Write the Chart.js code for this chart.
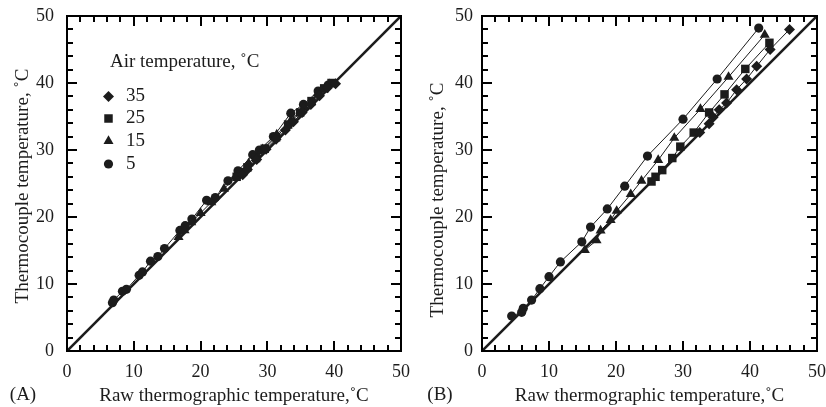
<!DOCTYPE html>
<html><head><meta charset="utf-8">
<script src="https://cdn.jsdelivr.net/npm/chart.js@4/dist/chart.umd.min.js"></script>
<style>
html,body{margin:0;padding:0;background:#fff;}
#wrap{position:relative;width:826px;height:407px;overflow:hidden;}
canvas{position:absolute;top:0;}
</style></head><body>
<div id="wrap"><canvas id="a" width="413" height="407" style="left:0"></canvas><canvas id="b" width="413" height="407" style="left:413px"></canvas></div>
<script>
// ---- text / ticks ----
const tickLabels = [0, 10, 20, 30, 40, 50];
const minorTicks = [0, 2, 4, 6, 8, 10, 12, 14, 16, 18, 20, 22, 24, 26, 28, 30, 32, 34, 36, 38, 40, 42, 44, 46, 48, 50];
const legendTitle = 'Air temperature, \u02DAC';
const seriesLabels = ['35', '25', '15', '5'];
const xTitle = 'Raw thermographic temperature,\u02DAC';
const yTitle = 'Thermocouple temperature, \u02DAC';
const panelLabels = ['(A)', '(B)'];
const identityX = [0, 50];
const identityY = [0, 50];

// ---- Panel A ----
const a35x = [26.3, 27.0, 28.4, 29.8, 31.3, 32.7, 33.9, 35.2, 36.5, 37.8, 39.0, 40.2];
const a35y = [26.3, 27.1, 28.6, 30.1, 31.6, 33.0, 34.2, 35.6, 36.8, 38.1, 39.3, 39.9];
const a25x = [25.4, 26.1, 27.0, 28.3, 29.6, 31.3, 33.1, 34.9, 36.6, 38.5, 39.6];
const a25y = [26.0, 26.7, 27.4, 28.8, 30.2, 31.9, 33.8, 35.6, 37.3, 39.2, 40.0];
const a15x = [16.7, 17.6, 18.6, 20.0, 21.6, 23.5, 25.3, 27.2, 29.3, 31.4, 33.5, 35.5, 37.5, 39.3];
const a15y = [17.0, 18.0, 19.2, 20.6, 22.2, 24.2, 26.1, 28.0, 30.1, 32.3, 34.4, 36.4, 38.4, 39.8];
const a5x = [6.8, 7.0, 8.3, 8.9, 10.8, 11.3, 12.5, 13.6, 14.6, 16.9, 17.7, 18.7, 20.9, 22.2, 24.1, 25.6, 27.8, 28.8, 30.9, 33.5, 35.4, 37.6, 39.1];
const a5y = [7.2, 7.6, 8.9, 9.2, 11.3, 11.8, 13.4, 14.1, 15.3, 18.0, 18.7, 19.7, 22.5, 22.9, 25.4, 26.9, 29.3, 30.0, 32.0, 35.5, 36.8, 38.8, 39.7];

// ---- Panel B ----
const b35x = [32.5, 33.9, 34.5, 35.4, 36.5, 38.0, 39.5, 41.0, 43.0, 45.9];
const b35y = [32.6, 33.9, 34.9, 36.0, 37.0, 39.0, 40.6, 42.5, 45.0, 48.0];
const b25x = [25.3, 25.9, 26.9, 28.4, 29.6, 31.6, 33.9, 36.2, 39.3, 42.9];
const b25y = [25.3, 26.0, 27.0, 28.8, 30.5, 32.6, 35.6, 38.3, 42.1, 46.0];
const b15x = [15.35, 17.1, 17.7, 19.2, 20.1, 22.2, 23.8, 26.3, 28.7, 32.6, 36.8, 42.2];
const b15y = [15.07, 16.5, 17.96, 19.55, 20.9, 23.4, 25.4, 28.5, 31.8, 36.1, 40.9, 47.2];
const b5x = [4.43, 5.92, 6.16, 7.4, 8.64, 10.0, 11.7, 14.9, 16.2, 18.7, 21.3, 24.7, 30.0, 35.1, 41.3];
const b5y = [5.22, 5.77, 6.37, 7.6, 9.3, 11.1, 13.3, 16.3, 18.5, 21.2, 24.6, 29.1, 34.6, 40.6, 48.2];

const INK = '#1c1c1c';
const FONT = 'Liberation Serif, Times New Roman, serif';
const styles = [
  {pointStyle: 'rectRot', radius: 5.5},
  {pointStyle: 'rect', radius: 6},
  {pointStyle: 'triangle', radius: 5.8},
  {pointStyle: 'circle', radius: 4.6}
];

function pts(xs, ys) { return xs.map((v, i) => ({x: v, y: ys[i]})); }

function seriesSets(list) {
  const sets = [{
    data: pts(identityX, identityY), showLine: true, borderColor: INK, borderWidth: 2.6,
    pointRadius: 0, order: 10
  }];
  list.forEach((s, i) => {
    sets.push({
      label: seriesLabels[i], data: pts(s[0], s[1]), showLine: true,
      borderColor: INK, borderWidth: 1, backgroundColor: INK,
      pointStyle: styles[i].pointStyle, pointRadius: styles[i].radius,
      pointBorderWidth: 0, pointBackgroundColor: INK, tension: 0
    });
  });
  return sets;
}

const frameTicks = {
  id: 'frameTicks',
  afterDraw(chart) {
    const ctx = chart.ctx;
    const ca = chart.chartArea;
    const sx = chart.scales.x, sy = chart.scales.y;
    ctx.save();
    ctx.fillStyle = '#000';
    const L0 = Math.round(ca.left), R0 = Math.round(ca.right), T0 = Math.round(ca.top), B0 = Math.round(ca.bottom);
    ctx.fillRect(L0 - 1, T0 - 1, R0 - L0 + 2, 2);
    ctx.fillRect(L0 - 1, B0 - 1, R0 - L0 + 2, 2);
    ctx.fillRect(L0 - 1, T0 - 1, 2, B0 - T0 + 2);
    ctx.fillRect(R0 - 1, T0 - 1, 2, B0 - T0 + 2);
    minorTicks.forEach(v => {
      const len = tickLabels.indexOf(v) >= 0 ? 10 : 6;
      const px = Math.round(sx.getPixelForValue(v));
      const py = Math.round(sy.getPixelForValue(v));
      ctx.fillRect(px - 1, B0 - len, 2, len);
      ctx.fillRect(px - 1, T0, 2, len);
      ctx.fillRect(L0, py - 1, len, 2);
      ctx.fillRect(R0 - len, py - 1, len, 2);
    });
    ctx.restore();
  }
};

function extras(panelIdx, yTitleY, panelX, withLegend) {
  return {
    id: 'extras' + panelIdx,
    afterDraw(chart) {
      const ctx = chart.ctx;
      ctx.save();
      ctx.fillStyle = INK;
      ctx.font = '19px ' + FONT;
      ctx.textBaseline = 'middle';
      ctx.textAlign = 'center';
      ctx.fillText(panelLabels[panelIdx], panelX, 395);
      ctx.save();
      ctx.translate(chart.chartArea.left - 44, yTitleY);
      ctx.rotate(-Math.PI / 2);
      ctx.fillText(yTitle, 0, 0);
      ctx.restore();
      if (withLegend) {
        ctx.textAlign = 'left';
        ctx.fillText(legendTitle, 110, 62);
        const ly = [96.5, 118.5, 141, 164];
        ly.forEach((yy, i) => {
          ctx.fillText(seriesLabels[i], 126, yy);
          const st = styles[i];
          if (Chart.helpers && Chart.helpers.drawPoint) {
            Chart.helpers.drawPoint(ctx, {pointStyle: st.pointStyle, radius: st.radius, rotation: 0, borderWidth: 0}, 108.5, yy);
          }
        });
      }
      ctx.restore();
    }
  };
}

function makeChart(id, sets, padRight, yWidth, yPad, panelIdx, yTitleY, panelX, withLegend) {
  return new Chart(document.getElementById(id), {
    type: 'scatter',
    data: {datasets: sets},
    options: {
      responsive: false, animation: false, devicePixelRatio: 1,
      layout: {padding: {left: 0, top: 16, right: padRight, bottom: 0}},
      plugins: {legend: {display: false}, tooltip: {enabled: false}},
      scales: {
        x: {
          type: 'linear', min: tickLabels[0], max: tickLabels[tickLabels.length - 1],
          afterFit(s) { s.height = 56; s.paddingLeft = 0; s.paddingRight = 0; s.paddingTop = 0; s.paddingBottom = 0; },
          afterBuildTicks(s) { s.ticks = tickLabels.map(v => ({value: v})); },
          grid: {display: false, drawTicks: false}, border: {display: false},
          ticks: {padding: 10, color: INK, font: {family: FONT, size: 18}, maxRotation: 0},
          title: {display: true, text: xTitle, color: INK, font: {family: FONT, size: 19}, padding: {top: 0, bottom: 0}}
        },
        y: {
          type: 'linear', min: tickLabels[0], max: tickLabels[tickLabels.length - 1],
          afterFit(s) { s.width = yWidth; s.paddingLeft = 0; s.paddingRight = 0; s.paddingTop = 0; s.paddingBottom = 0; },
          afterBuildTicks(s) { s.ticks = tickLabels.map(v => ({value: v})); },
          grid: {display: false, drawTicks: false}, border: {display: false},
          ticks: {padding: yPad, color: INK, font: {family: FONT, size: 18}},
          title: {display: false}
        }
      }
    },
    plugins: [frameTicks, extras(panelIdx, yTitleY, panelX, withLegend)]
  });
}

makeChart('a', seriesSets([[a35x, a35y], [a25x, a25y], [a15x, a15y], [a5x, a5y]]), 12, 67, 13, 0, 186, 23, true);
makeChart('b', seriesSets([[b35x, b35y], [b25x, b25y], [b15x, b15y], [b5x, b5y]]), 9, 69, 9, 1, 200, 27, false);
</script>
</body></html>
